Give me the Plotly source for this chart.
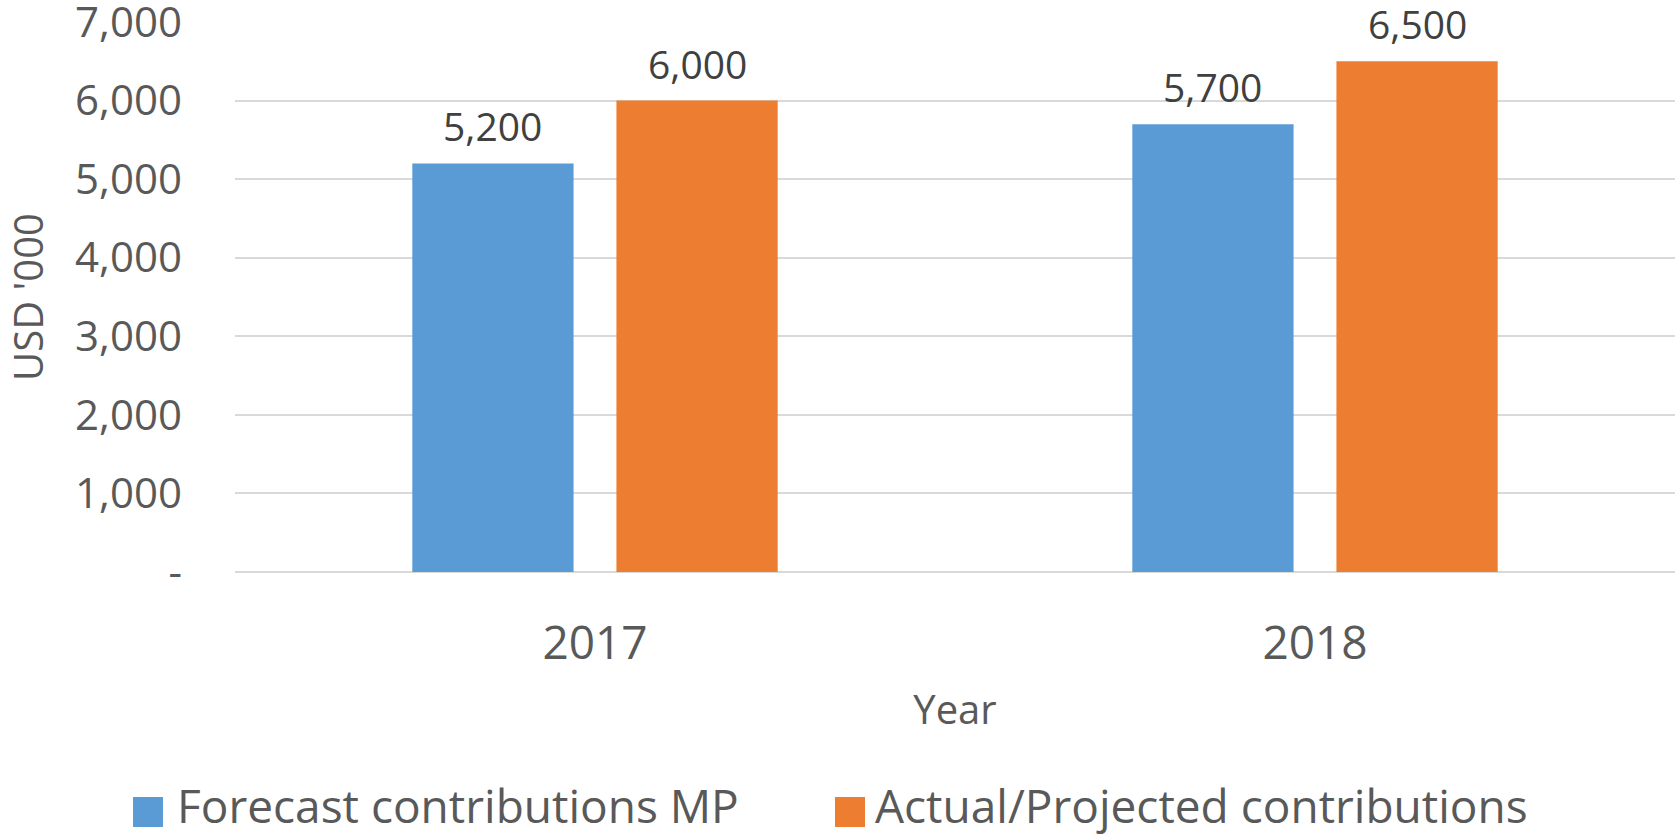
import plotly.graph_objects as go

years = ["2017", "2018"]
forecast_mp = [5200, 5700]
actual_projected = [6000, 6500]
series_names = ["Forecast contributions MP", "Actual/Projected contributions"]
series_colors = ["#5B9BD5", "#ED7D31"]
y_tickvals = [0, 1000, 2000, 3000, 4000, 5000, 6000, 7000]
y_ticktext = ["-", "1,000", "2,000", "3,000", "4,000", "5,000", "6,000", "7,000"]

FONT = "'Open Sans', 'Noto Sans', sans-serif"
W, H = 1675, 836
ML, MR, MT, MB = 235, 0, 22, 264
BARGAP, BARGROUPGAP = 0.433, 0.21

fig = go.Figure()
series_values = [forecast_mp, actual_projected]
for name, vals, col in zip(series_names, series_values, series_colors):
    fig.add_trace(go.Bar(
        x=years, y=vals, name=name, marker=dict(color=col, line=dict(width=0)),
        showlegend=False, hoverinfo="x+y+name",
    ))

# data labels above each bar (positioned in data coordinates)
slot = (1 - BARGAP) / 2
for k, vals in enumerate(series_values):
    off = (k - 0.5) * slot
    for j, v in enumerate(vals):
        fig.add_annotation(
            x=j + off, y=v, xref="x", yref="y", text=f"{v:,}", showarrow=False,
            yanchor="bottom", yshift=9,
            font=dict(family=FONT, size=39, color="#404040"),
        )

# legend drawn as swatches + text below the chart
def px_to_paper_x(px):
    return (px - ML) / (W - ML - MR)

def px_to_paper_y(py):
    return (H - MB - py) / (H - MT - MB)

legend_items = [(133, 178), (835, 876)]
for (sq_x, tx_x), name, col in zip(legend_items, series_names, series_colors):
    fig.add_shape(type="rect", xref="paper", yref="paper",
                  x0=px_to_paper_x(sq_x), x1=px_to_paper_x(sq_x + 30),
                  y0=px_to_paper_y(827), y1=px_to_paper_y(797),
                  fillcolor=col, line=dict(width=0))
    fig.add_annotation(x=px_to_paper_x(tx_x - 3), y=px_to_paper_y(805), xref="paper", yref="paper",
                       text=name, showarrow=False, xanchor="left", yanchor="middle",
                       font=dict(family=FONT, size=46, color="#595959"))

fig.update_layout(
    width=W, height=H,
    margin=dict(l=ML, r=MR, t=MT, b=MB),
    paper_bgcolor="white", plot_bgcolor="white",
    barmode="group", bargap=BARGAP, bargroupgap=BARGROUPGAP,
    font=dict(family=FONT, color="#595959"),
    showlegend=False,
    xaxis=dict(
        range=[-0.5, 1.5], showgrid=False, showline=False, zeroline=False,
        automargin=False,
        tickfont=dict(family=FONT, size=46, color="#595959"),
        ticklabelstandoff=40,
        title=dict(text="Year", font=dict(family=FONT, size=40, color="#595959"), standoff=24),
    ),
    yaxis=dict(
        range=[0, 7000], tickvals=y_tickvals, ticktext=y_ticktext,
        showgrid=True, gridcolor="#D9D9D9", gridwidth=1.5,
        zeroline=True, zerolinecolor="#D9D9D9", zerolinewidth=1.5,
        showline=False, automargin=False, ticklabeloverflow="allow",
        tickfont=dict(family=FONT, size=42, color="#595959"),
        ticklabelstandoff=52,
        title=dict(text="USD '000", font=dict(family=FONT, size=40, color="#595959"), standoff=28),
    ),
)

fig.write_html(
    "out.html",
    config={"displayModeBar": False},
    post_script="document.body.style.margin='0';document.body.style.overflow='hidden';",
)
